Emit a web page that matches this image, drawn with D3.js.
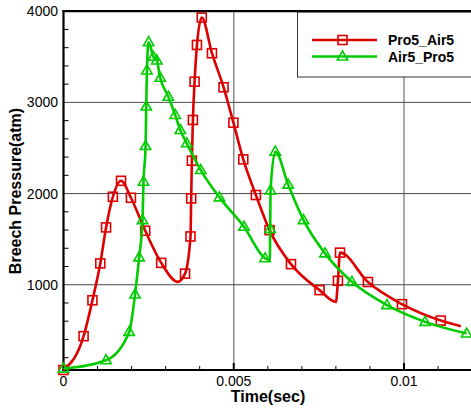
<!DOCTYPE html>
<html>
<head>
<meta charset="utf-8">
<script src="https://cdn.jsdelivr.net/npm/d3@7"></script>
<style>
  html, body { margin: 0; padding: 0; background: #fff; }
  svg { display: block; font-family: Arial, "Liberation Sans", sans-serif; }
</style>
</head>
<body>
<svg id="chart" width="471" height="409"></svg>
<script>
// ---- data ----
const seriesNames = ["Pro5_Air5", "Air5_Pro5"];

const redTime = [0, 0.00059, 0.00085, 0.00108, 0.00125, 0.00145, 0.00169, 0.00198, 0.0024, 0.00287,
  0.00335, 0.00357, 0.00373, 0.00375, 0.00377, 0.0038, 0.00385, 0.00392, 0.00406, 0.00436,
  0.0047, 0.00499, 0.00528, 0.00565, 0.00605, 0.00668, 0.00752, 0.008, 0.00806, 0.00812,
  0.00894, 0.00994, 0.01108, 0.01167];
const redPressure = [65, 436, 830, 1234, 1629, 1965, 2140, 1954, 1592, 1240,
  1032, 1122, 1530, 1947, 2360, 2807, 3227, 3630, 3930, 3539,
  3166, 2777, 2375, 1984, 1599, 1226, 941, 812, 1043, 1352,
  1030, 787, 607, 545];
const redMarker = [1, 1, 1, 1, 1, 1, 1, 1, 1, 1,
  0, 1, 1, 1, 1, 1, 1, 1, 1, 1,
  1, 1, 1, 1, 1, 1, 1, 0, 1, 1,
  1, 1, 1, 0];

const greenTime = [0, 0.00125, 0.00193, 0.0021, 0.00222, 0.00232, 0.00235, 0.00241, 0.00243, 0.00245,
  0.0025, 0.00264, 0.00274, 0.00284, 0.00308, 0.00328, 0.00343, 0.00362, 0.00403, 0.00458,
  0.0053, 0.00592, 0.00606, 0.00607, 0.00608, 0.00622, 0.0066, 0.00705, 0.00768, 0.00847,
  0.0095, 0.01062, 0.01184];
const greenPressure = [80, 172, 483, 893, 1300, 1709, 2130, 2521, 2955, 3350,
  3660, 3500, 3460, 3270, 3062, 2862, 2697, 2551, 2258, 1958,
  1636, 1290, 1272, 1612, 2035, 2459, 2098, 1709, 1344, 1032,
  776, 593, 465];
const greenMarker = [1, 1, 1, 1, 1, 1, 1, 1, 1, 1,
  1, 1, 1, 1, 1, 1, 1, 1, 1, 1,
  1, 1, 0, 1, 1, 1, 1, 1, 1, 1,
  1, 1, 1];

const xTickValues = [0, 0.005, 0.01];
const xTickLabels = ["0", "0.005", "0.01"];
const yTickValues = [1000, 2000, 3000, 4000];
const yTickLabels = ["1000", "2000", "3000", "4000"];

const xTitle = "Time(sec)";
const yTitle = "Breech Pressure(atm)";

// ---- layout ----
const colors = ["#dd0000", "#00cc00"];
const svg = d3.select("#chart");
const pLeft = 63.5, pRight = 472.1, pTop = 11.2, pBottom = 370;

const x = d3.scaleLinear().domain([0, 0.012]).range([pLeft, pRight]);
const y = d3.scaleLinear().domain([65, 4000]).range([pBottom, pTop]);

// vertical grid lines
svg.append("g").selectAll("line")
  .data(xTickValues.filter(v => v > 0))
  .join("line")
  .attr("x1", d => x(d)).attr("x2", d => x(d))
  .attr("y1", pTop).attr("y2", pBottom)
  .attr("stroke", "#8c8c8c").attr("stroke-width", 1.5);

// horizontal grid lines
svg.append("g").selectAll("line")
  .data(yTickValues.filter(v => v < 4000))
  .join("line")
  .attr("x1", pLeft).attr("x2", pRight)
  .attr("y1", d => y(d)).attr("y2", d => y(d))
  .attr("stroke", "#4a4a4a").attr("stroke-width", 1);

// minor ticks
const xMinor = d3.range(1, 12).map(i => i * 0.001).filter(v => Math.abs(v - 0.005) > 1e-9 && Math.abs(v - 0.01) > 1e-9);
svg.append("g").selectAll("line").data(xMinor).join("line")
  .attr("x1", d => x(d)).attr("x2", d => x(d))
  .attr("y1", pBottom).attr("y2", pBottom - 4)
  .attr("stroke", "#000").attr("stroke-width", 1);
svg.append("g").selectAll("line").data(xTickValues.filter(v => v > 0)).join("line")
  .attr("x1", d => x(d)).attr("x2", d => x(d))
  .attr("y1", pBottom).attr("y2", pBottom - 7)
  .attr("stroke", "#000").attr("stroke-width", 2);

const yMinor = d3.range(200, 4000, 200).filter(v => v % 1000 !== 0);
svg.append("g").selectAll("line").data(yMinor).join("line")
  .attr("x1", pLeft).attr("x2", pLeft + 5)
  .attr("y1", d => y(d)).attr("y2", d => y(d))
  .attr("stroke", "#000").attr("stroke-width", 1);

// axes lines
svg.append("line").attr("x1", pLeft).attr("x2", pLeft).attr("y1", pTop - 1).attr("y2", pBottom + 1)
  .attr("stroke", "#000").attr("stroke-width", 2.2);
svg.append("line").attr("x1", pLeft - 1).attr("x2", pRight).attr("y1", pBottom).attr("y2", pBottom)
  .attr("stroke", "#000").attr("stroke-width", 2.2);

// tick labels
svg.append("g").selectAll("text").data(xTickValues).join("text")
  .attr("x", d => x(d)).attr("y", 386)
  .attr("text-anchor", "middle").attr("font-size", 14).attr("fill", "#000")
  .text((d, i) => xTickLabels[i]);
svg.append("g").selectAll("text").data(yTickValues).join("text")
  .attr("x", 58).attr("y", d => y(d) + 5)
  .attr("text-anchor", "end").attr("font-size", 14).attr("fill", "#000")
  .text((d, i) => yTickLabels[i]);

// titles
svg.append("text").attr("x", 268).attr("y", 402)
  .attr("text-anchor", "middle").attr("font-size", 16).attr("font-weight", "bold")
  .text(xTitle);
svg.append("text").attr("transform", "translate(21,191) rotate(-90)")
  .attr("text-anchor", "middle").attr("font-size", 16).attr("font-weight", "bold")
  .text(yTitle);

// series
const series = [
  { t: redTime, p: redPressure, m: redMarker, shape: "square" },
  { t: greenTime, p: greenPressure, m: greenMarker, shape: "triangle" }
];
const line = d3.line().x(d => x(d[0])).y(d => y(d[1])).curve(d3.curveMonotoneX);

function drawMarker(g, shape, cx, cy, color) {
  if (shape === "square") {
    g.append("rect").attr("x", cx - 4.5).attr("y", cy - 4.5).attr("width", 9).attr("height", 9)
      .attr("fill", "none").attr("stroke", color).attr("stroke-width", 1.6);
  } else {
    g.append("path")
      .attr("d", `M${cx},${cy - 5.5}L${cx + 5.2},${cy + 3.5}L${cx - 5.2},${cy + 3.5}Z`)
      .attr("fill", "none").attr("stroke", color).attr("stroke-width", 1.6);
  }
}

series.forEach((s, si) => {
  const pts = s.t.map((t, i) => [t, s.p[i]]);
  const g = svg.append("g");
  g.append("path").attr("d", line(pts)).attr("fill", "none")
    .attr("stroke", colors[si]).attr("stroke-width", 2.6).attr("stroke-linejoin", "round");
  pts.forEach((d, i) => {
    if (s.m[i]) drawMarker(g, s.shape, x(d[0]), y(d[1]), colors[si]);
  });
});

// legend
const lg = svg.append("g");
lg.append("rect").attr("x", 297.5).attr("y", 12).attr("width", 190).attr("height", 65)
  .attr("fill", "#fff").attr("stroke", "#333").attr("stroke-width", 1);
svg.append("line").attr("x1", pLeft - 1).attr("x2", pRight).attr("y1", pTop).attr("y2", pTop)
  .attr("stroke", "#000").attr("stroke-width", 2.2);
seriesNames.forEach((name, i) => {
  const ly = 40 + i * 16.5;
  lg.append("line").attr("x1", 312).attr("x2", 377).attr("y1", ly).attr("y2", ly)
    .attr("stroke", colors[i]).attr("stroke-width", 2.6);
  drawMarker(lg, series[i].shape, 342.5, ly, colors[i]);
  lg.append("text").attr("x", 388).attr("y", ly + 5)
    .attr("font-size", 14).attr("font-weight", "bold").attr("fill", "#000")
    .text(name);
});
</script>
</body>
</html>
